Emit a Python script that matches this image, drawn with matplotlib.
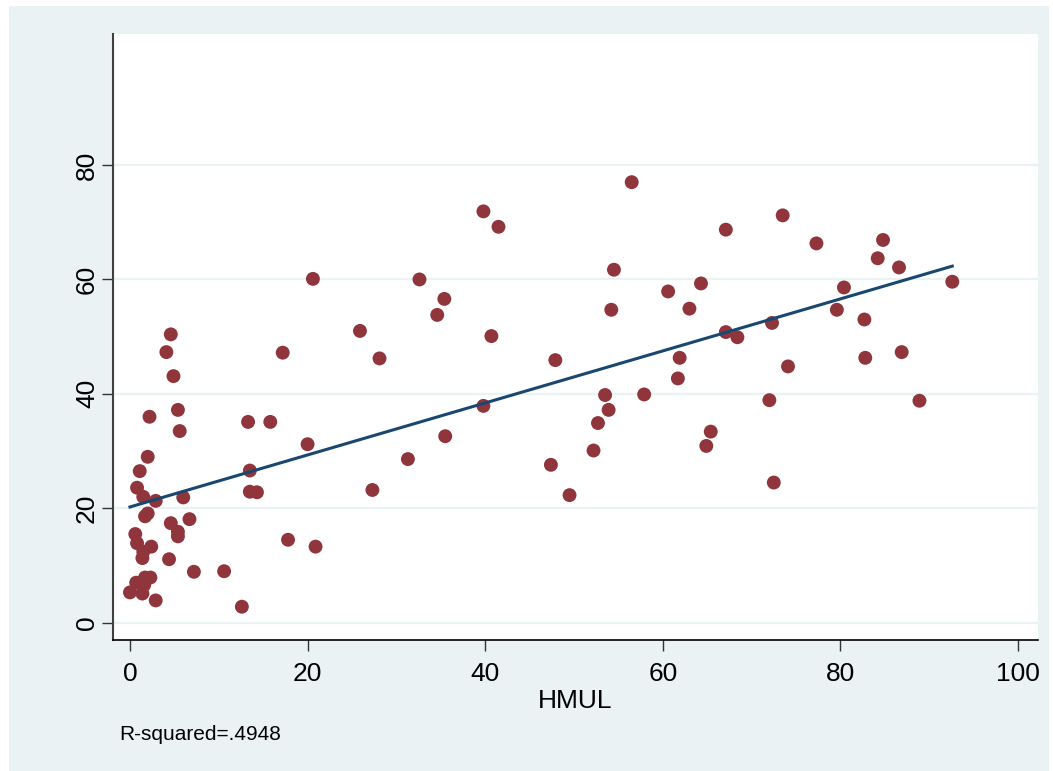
import numpy as np
import matplotlib
matplotlib.use("Agg")
import matplotlib.pyplot as plt
from matplotlib.patches import Rectangle

plt.rcParams["font.family"] = ["Liberation Sans", "DejaVu Sans"]

# HMUL (x) against the outcome (y)
hmul = [
    4.6, 4.1, 4.9, 2.2, 5.4, 5.6, 2.0, 1.1, 0.8, 1.5, 2.9, 6.0, 1.7, 2.0, 4.6, 6.7,
    5.4, 5.4, 0.6, 0.8, 2.4, 1.5, 1.4, 4.4, 7.2, 10.6, 1.7, 2.3, 0.7, 0.0, 1.6, 1.4, 2.9,
    20.6, 32.6, 35.4, 34.6, 25.9, 40.7, 17.2, 28.1, 13.3, 15.8, 20.0, 39.8, 35.5, 31.3,
    13.5, 13.5, 14.3, 27.3, 17.8, 20.9, 12.6,
    56.5, 39.8, 41.5, 67.1, 54.5, 64.3, 60.6, 54.2, 63.0, 67.1, 68.4, 47.9, 61.9, 61.7,
    53.5, 57.9, 53.9, 52.7, 52.2, 65.4, 64.9, 47.4, 49.5,
    73.5, 77.3, 84.8, 84.2, 86.6, 92.6, 80.4, 79.6, 82.7, 72.3, 74.1, 82.8, 86.9, 72.0,
    88.9, 72.5,
]
outcome = [
    50.4, 47.3, 43.1, 36.0, 37.2, 33.5, 29.0, 26.5, 23.6, 22.0, 21.3, 21.9, 18.6, 19.1, 17.4, 18.1,
    15.9, 15.1, 15.5, 13.9, 13.3, 12.4, 11.3, 11.1, 8.9, 9.0, 7.9, 7.9, 7.0, 5.3, 6.6, 5.1, 3.9,
    60.1, 60.0, 56.6, 53.8, 51.0, 50.1, 47.2, 46.2, 35.1, 35.1, 31.2, 37.9, 32.6, 28.6,
    26.6, 22.9, 22.8, 23.2, 14.5, 13.3, 2.8,
    77.0, 71.9, 69.2, 68.7, 61.7, 59.3, 57.9, 54.7, 54.9, 50.8, 49.9, 45.9, 46.3, 42.7,
    39.8, 39.9, 37.2, 34.9, 30.1, 33.4, 30.9, 27.6, 22.3,
    71.2, 66.3, 66.9, 63.7, 62.1, 59.6, 58.6, 54.7, 53.0, 52.4, 44.8, 46.3, 47.3, 38.9,
    38.8, 24.5,
]
xticks = [0, 20, 40, 60, 80, 100]
yticks = [0, 20, 40, 60, 80]
r2_text = "R-squared=.4948"

bg = "#eaf2f3"
maroon = "#90353b"
navy = "#1a476f"

x = np.array(hmul)
y = np.array(outcome)
slope, intercept = np.polyfit(x, y, 1)
xl = np.array([x.min(), x.max()])

fig = plt.figure(figsize=(10.53, 7.71), dpi=100, facecolor="white")
fig.patches.append(Rectangle((9 / 1053, 0), 1040 / 1053, 765 / 771,
                             transform=fig.transFigure, facecolor=bg,
                             edgecolor="none", zorder=-10))

ax = fig.add_axes([113 / 1053, 1 - 640 / 771, 925 / 1053, 606 / 771])
ax.set_facecolor("white")

for t in yticks:
    ax.axhline(t, color=bg, lw=1.6, zorder=0)

ax.scatter(x, y, s=100, color=maroon, edgecolors="none", zorder=3)
ax.plot(xl, intercept + slope * xl, color=navy, lw=2.2, zorder=4)

ax.set_xlim(-1.91, 102.25)
ax.set_ylim(-3.02, 102.9)
ax.set_xticks(xticks)
ax.set_yticks(yticks)
ax.tick_params(axis="both", labelsize=19, length=8, width=1, color="#333333")
ax.tick_params(axis="x", pad=8)
ax.tick_params(axis="y", pad=2)
for lbl in ax.get_yticklabels():
    lbl.set_rotation(90)
    lbl.set_va("center")

for side in ("top", "right"):
    ax.spines[side].set_visible(False)
ax.spines["left"].set_color("#404040")
ax.spines["left"].set_linewidth(1.5)
ax.spines["bottom"].set_color("black")
ax.spines["bottom"].set_linewidth(1.2)

ax.set_xlabel("HMUL", fontsize=19, labelpad=2)
fig.text(119 / 1053, 1 - 740 / 771, r2_text, fontsize=15, va="baseline", ha="left")

fig.savefig("out.png", dpi=100, facecolor=fig.get_facecolor())
